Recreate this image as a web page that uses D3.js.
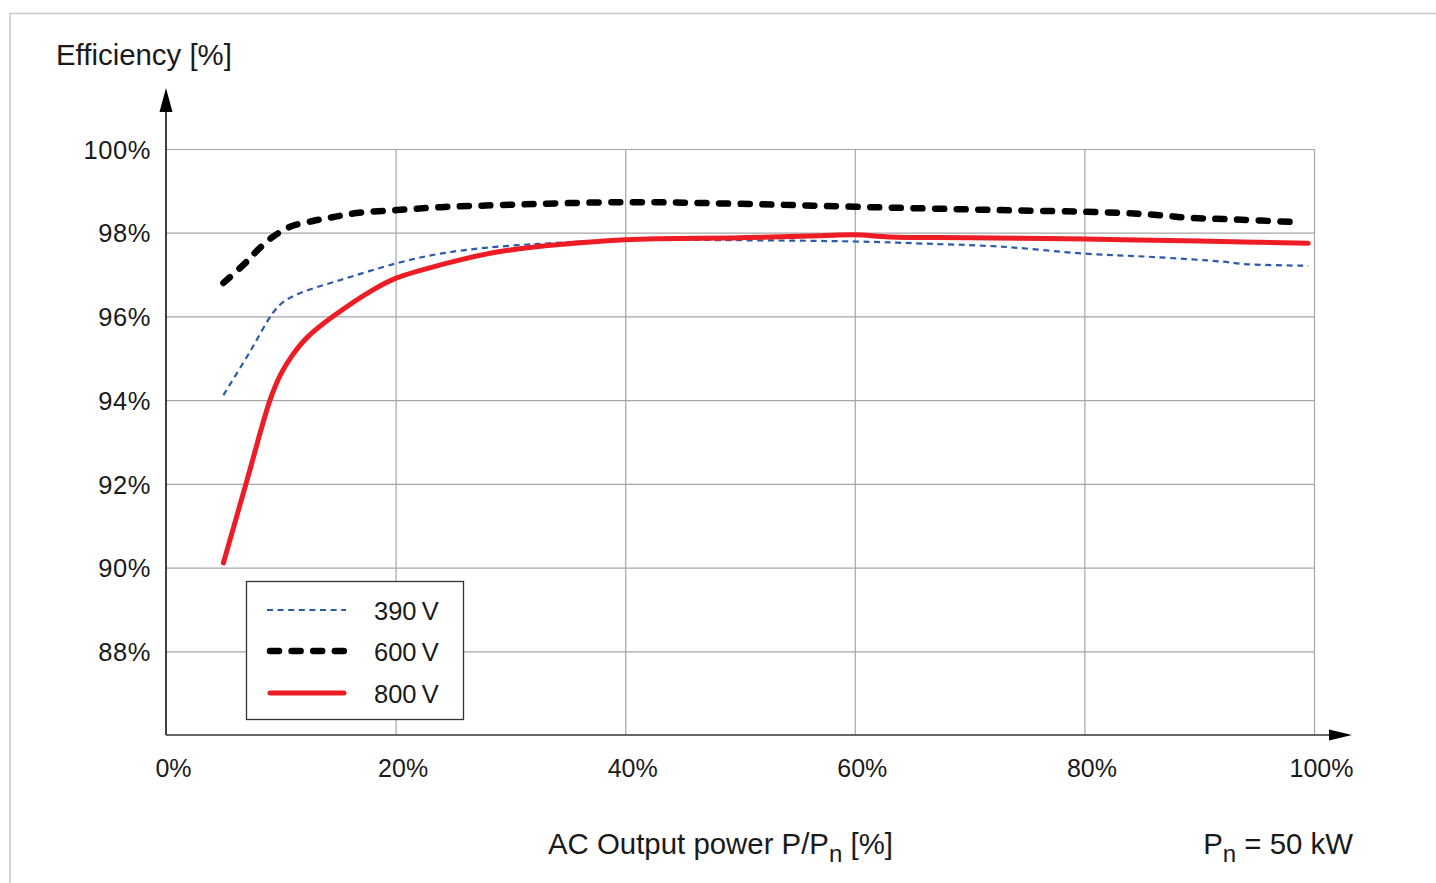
<!DOCTYPE html>
<html>
<head>
<meta charset="utf-8">
<script src="https://cdn.jsdelivr.net/npm/d3@7"></script>
<style>
  html, body { margin: 0; padding: 0; background: #fff; }
  svg { display: block; }
  text { font-family: "Liberation Sans", Arial, Helvetica, sans-serif; fill: #1a1a1a; }
</style>
</head>
<body>
<svg id="chart" width="1436" height="883"></svg>
<script>
// ---- data ----
const loadTicks = [0, 20, 40, 60, 80, 100];
const effTicks = [88, 90, 92, 94, 96, 98, 100];
const seriesNames = ["390\u2009V", "600\u2009V", "800\u2009V"];

const load390 = [5, 7.3, 9.3, 10.2, 11.7, 15.2, 20.1, 23.9, 29.1, 40, 50, 60, 66, 72.6, 80, 86, 92, 94, 99.5];
const eff390  = [94.12, 95.15, 96.08, 96.34, 96.56, 96.87, 97.27, 97.5, 97.67, 97.82, 97.82, 97.79, 97.74, 97.67, 97.5, 97.42, 97.31, 97.25, 97.21];

const load600 = [5, 7, 8, 9.3, 10.8, 12.8, 14.5, 16.6, 20.1, 23.9, 29.1, 40, 50, 60, 72.6, 81.4, 84.8, 87, 88.8, 92.7, 98.8];
const eff600  = [96.8, 97.3, 97.59, 97.9, 98.14, 98.28, 98.37, 98.47, 98.54, 98.61, 98.66, 98.73, 98.69, 98.62, 98.54, 98.49, 98.45, 98.41, 98.36, 98.32, 98.25];

const load800 = [5, 7.06, 9.06, 10, 11, 12.3, 14.5, 18, 20.1, 23.9, 29.1, 40, 50, 57, 60, 63, 70, 80, 90, 99.5];
const eff800  = [90.11, 92.09, 94.0, 94.62, 95.07, 95.5, 95.99, 96.63, 96.92, 97.23, 97.55, 97.83, 97.88, 97.93, 97.95, 97.9, 97.88, 97.85, 97.8, 97.75];

// ---- layout ----
const svg = d3.select("#chart");
const x = d3.scaleLinear().domain([0, 100]).range([166, 1314]);
const y = d3.scaleLinear().domain([86, 100]).range([735, 149]);

// outer frame
svg.append("path")
  .attr("d", "M10,883 L10,13.5 L1436,13.5")
  .attr("fill", "none").attr("stroke", "#c8c8c8").attr("stroke-width", 1.5);

// horizontal grid
const gy = svg.append("g").attr("transform", `translate(${x(0)},0)`)
  .call(d3.axisRight(y).tickValues(effTicks).tickSize(x(100) - x(0)).tickFormat(""));
gy.select(".domain").remove();
gy.selectAll("line").attr("stroke", "#a6a6a6").attr("stroke-width", 1.2);

// vertical grid
const gx = svg.append("g").attr("transform", `translate(0,${y(86)})`)
  .call(d3.axisTop(x).tickValues(loadTicks.filter(d => d > 0)).tickSize(y(86) - y(100)).tickFormat(""));
gx.select(".domain").remove();
gx.selectAll("line").attr("stroke", "#a6a6a6").attr("stroke-width", 1.2);

// y tick labels
const ly = svg.append("g").attr("transform", `translate(${x(0) - 15},0)`)
  .call(d3.axisLeft(y).tickValues(effTicks).tickSize(0).tickPadding(0).tickFormat(d => d + "%"));
ly.select(".domain").remove();
ly.selectAll("text").attr("font-size", 25.5).attr("font-family", '"Liberation Sans", Arial, sans-serif')
  .attr("fill", "#1a1a1a").attr("dy", "0.36em").attr("letter-spacing", 0.6);

// x tick labels
const lx = svg.append("g").attr("transform", `translate(7,${y(86)})`)
  .call(d3.axisBottom(x).tickValues(loadTicks).tickSize(0).tickPadding(0).tickFormat(d => d + "%"));
lx.select(".domain").remove();
lx.selectAll("text").attr("font-size", 25).attr("font-family", '"Liberation Sans", Arial, sans-serif')
  .attr("fill", "#1a1a1a").attr("dy", null).attr("y", 42);

// axes with arrows
svg.append("line").attr("x1", x(0)).attr("x2", x(0)).attr("y1", y(86)).attr("y2", 105)
  .attr("stroke", "#111").attr("stroke-width", 1.6);
svg.append("path").attr("d", `M${x(0)},88 L${x(0) - 6.5},112 L${x(0) + 6.5},112 Z`).attr("fill", "#000");
svg.append("line").attr("x1", x(0)).attr("x2", 1335).attr("y1", y(86)).attr("y2", y(86))
  .attr("stroke", "#333").attr("stroke-width", 1.6);
svg.append("path").attr("d", `M1352,${y(86)} L1329,${y(86) - 5.5} L1329,${y(86) + 5.5} Z`).attr("fill", "#000");

// series
const styles = [
  { color: "#2a5aa8", width: 2.2, dash: "6 4.6", cap: "butt" },
  { color: "#000000", width: 6.5, dash: "9 12.6", cap: "round" },
  { color: "#ee1c25", width: 5, dash: null, cap: "round" }
];
const series = [
  d3.zip(load390, eff390),
  d3.zip(load600, eff600),
  d3.zip(load800, eff800)
];
const line = d3.line().x(d => x(d[0])).y(d => y(d[1])).curve(d3.curveCatmullRom.alpha(0.5));

[1, 0, 2].forEach(i => {
  svg.append("path").datum(series[i])
    .attr("d", line)
    .attr("fill", "none")
    .attr("stroke", styles[i].color)
    .attr("stroke-width", styles[i].width)
    .attr("stroke-linecap", styles[i].cap)
    .attr("stroke-linejoin", "round")
    .attr("stroke-dasharray", styles[i].dash);
});

// legend
const lg = svg.append("g");
lg.append("rect").attr("x", 246.5).attr("y", 581.5).attr("width", 217).attr("height", 138)
  .attr("fill", "#fff").attr("stroke", "#333").attr("stroke-width", 1.3);
const legY = [610, 651, 693];
seriesNames.forEach((name, i) => {
  lg.append("line").attr("x1", i === 0 ? 267 : 270).attr("x2", i === 0 ? 346 : 344)
    .attr("y1", legY[i]).attr("y2", legY[i])
    .attr("stroke", styles[i].color).attr("stroke-width", styles[i].width)
    .attr("stroke-linecap", styles[i].cap)
    .attr("stroke-dasharray", styles[i].dash);
  lg.append("text").attr("x", 374).attr("y", legY[i] + 10).attr("font-size", 25.5).text(name);
});

// titles
svg.append("text").attr("x", 56).attr("y", 65).attr("font-size", 29.4).attr("fill", "#222").text("Efficiency [%]");

const xt = svg.append("text").attr("x", 548).attr("y", 854).attr("font-size", 29.4).attr("fill", "#222");
xt.append("tspan").text("AC Output power P/P");
xt.append("tspan").attr("dy", 8).attr("font-size", 24).text("n");
xt.append("tspan").attr("dy", -8).text(" [%]");

const pn = svg.append("text").attr("x", 1353).attr("y", 854).attr("font-size", 29.4).attr("fill", "#222")
  .attr("text-anchor", "end");
pn.append("tspan").text("P");
pn.append("tspan").attr("dy", 8).attr("font-size", 24).text("n");
pn.append("tspan").attr("dy", -8).text(" = 50 kW");
</script>
</body>
</html>
